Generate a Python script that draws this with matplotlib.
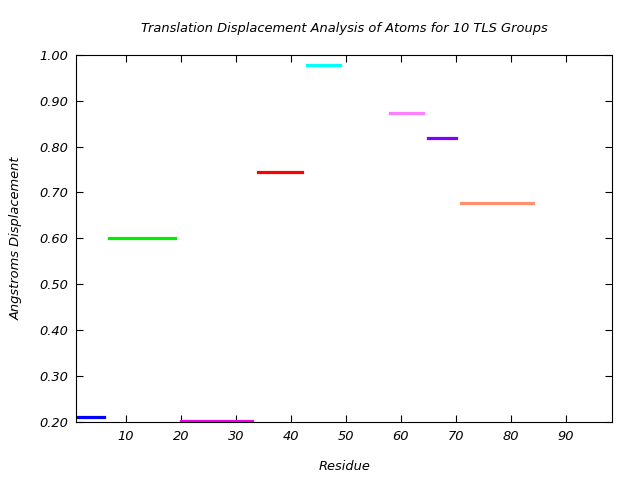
import matplotlib
matplotlib.use("Agg")
from matplotlib import pyplot as plt

# TLS group segments: residue start, residue end, displacement
starts = [1, 7, 20, 34, 43, 58, 65, 71]
ends = [6, 19, 33, 42, 49, 64, 70, 84]
values = [0.210, 0.600, 0.202, 0.745, 0.977, 0.872, 0.818, 0.676]
colors = ["#0000ff", "#00ee00", "#ee00ee", "#ff0000", "#00ffff",
          "#ff80ff", "#7f00ff", "#ff9070"]
yticks = [0.2, 0.3, 0.4, 0.5, 0.6, 0.7, 0.8, 0.9, 1.0]
xticks = [10, 20, 30, 40, 50, 60, 70, 80, 90]

plt.rcParams["font.family"] = "DejaVu Sans"
plt.rcParams["font.style"] = "italic"

fig = plt.figure(figsize=(6.4, 4.8), dpi=100)
ax = fig.add_axes([0.1195, 0.1208, 0.8372, 0.7652])

for s, e, v, c in zip(starts, ends, values, colors):
    lc = ax.hlines(v, s, e, colors=c, linewidth=2.3)
    lc.set_capstyle("projecting")

ax.set_xlim(1, 98.5)
ax.set_ylim(0.2, 1.0)
ax.set_xticks(xticks)
ax.set_yticks(yticks)
ax.set_yticklabels(["%.2f" % t for t in yticks])
ax.tick_params(direction="in", top=True, right=True, length=5, labelsize=9.4, pad=6)

ax.set_title("Translation Displacement Analysis of Atoms for 10 TLS Groups",
             fontsize=9.4, pad=16)
ax.set_xlabel("Residue", fontsize=9.4, labelpad=12)
ax.set_ylabel("Angstroms Displacement", fontsize=9.4, labelpad=12)

fig.savefig("out.png")
